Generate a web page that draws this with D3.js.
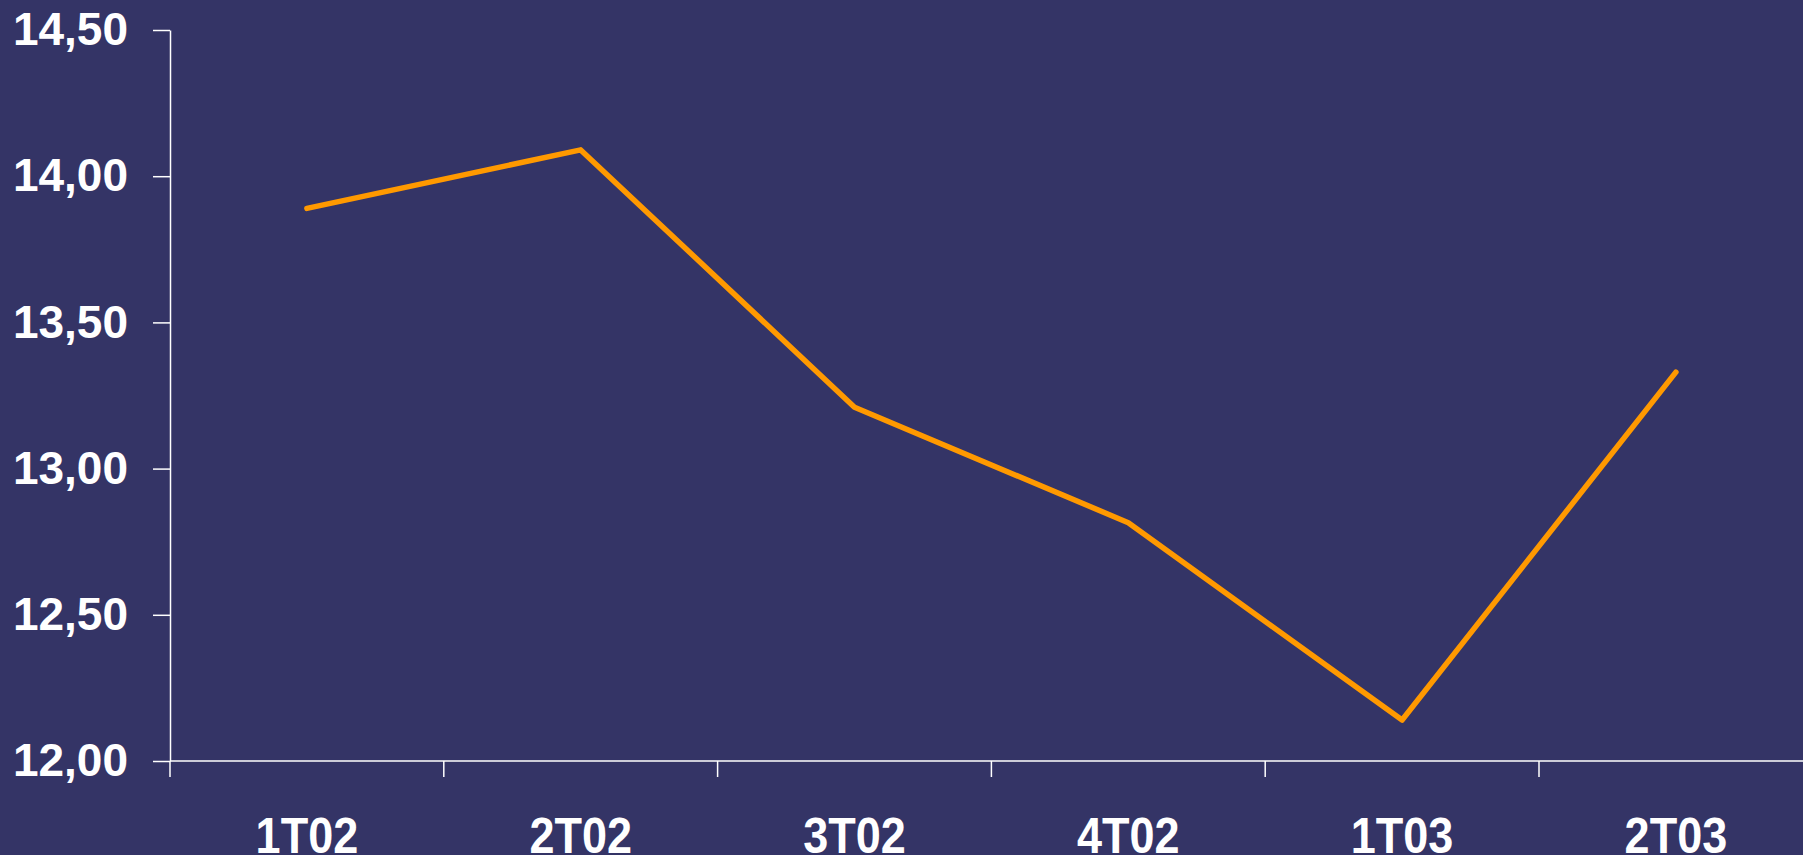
<!DOCTYPE html>
<html>
<head>
<meta charset="utf-8">
<script src="https://cdn.jsdelivr.net/npm/d3@7"></script>
<style>
    html, body { margin: 0; padding: 0; background: #343466; overflow: hidden; }
    svg { display: block; }
</style>
</head>
<body>
<div id="chart"></div>
<script>
    // quarterly values
    var quarters = ['1T02', '2T02', '3T02', '4T02', '1T03', '2T03'];
    var values = [13.89, 14.09, 13.21, 12.815, 12.14, 13.33];
    var yTicks = [12, 12.5, 13, 13.5, 14, 14.5];

    var width = 1803;
    var height = 855;
    var bg = '#343466';
    var lineColor = '#ff9900';
    var axisColor = '#ffffff';

    var svg = d3.select('#chart')
        .append('svg')
        .attr('width', width)
        .attr('height', height)
        .style('background', bg);

    var x = d3.scaleBand()
        .domain(quarters)
        .range([170, 170 + 6 * 273.8]);

    var y = d3.scaleLinear()
        .domain([12, 14.5])
        .range([761, 30]);

    var fmt = d3.format('.2f');

    // y axis
    var yAxis = svg.append('g')
        .attr('transform', 'translate(' + x.range()[0] + ',0)')
        .call(d3.axisLeft(y)
            .tickValues(yTicks)
            .tickSizeInner(17)
            .tickSizeOuter(0)
            .tickPadding(25)
            .tickFormat(function (d) {
                return fmt(d).replace('.', ',');
            })
        );
    yAxis.select('.domain').attr('stroke', axisColor).attr('stroke-width', 1.5);
    yAxis.selectAll('.tick line').attr('stroke', axisColor).attr('stroke-width', 1.5);
    yAxis.selectAll('.tick text')
        .attr('fill', axisColor)
        .style('font-family', '"Liberation Sans", Arial, sans-serif')
        .style('font-weight', 'bold')
        .style('font-size', '46px');

    // x axis line, ticks at band edges
    var xg = svg.append('g');
    xg.append('line')
        .attr('x1', x.range()[0])
        .attr('x2', width)
        .attr('y1', y(12))
        .attr('y2', y(12))
        .attr('stroke', axisColor)
        .attr('stroke-width', 1.5);
    xg.selectAll('.xtick')
        .data(quarters)
        .enter()
        .append('line')
        .attr('class', 'xtick')
        .attr('x1', function (d) { return x(d); })
        .attr('x2', function (d) { return x(d); })
        .attr('y1', y(12))
        .attr('y2', y(12) + 16)
        .attr('stroke', axisColor)
        .attr('stroke-width', 1.5);
    xg.selectAll('.xlabel')
        .data(quarters)
        .enter()
        .append('text')
        .attr('class', 'xlabel')
        .attr('transform', function (d) {
            return 'translate(' + (x(d) + x.bandwidth() / 2) + ',853) scale(1,1.1)';
        })
        .attr('text-anchor', 'middle')
        .attr('fill', axisColor)
        .style('font-family', '"Liberation Sans", Arial, sans-serif')
        .style('font-weight', 'bold')
        .style('font-size', '45px')
        .text(function (d) { return d; });

    // the line
    var line = d3.line()
        .x(function (d, i) { return x(quarters[i]) + x.bandwidth() / 2; })
        .y(function (d) { return y(d); });

    svg.append('path')
        .datum(values)
        .attr('d', line)
        .attr('fill', 'none')
        .attr('stroke', lineColor)
        .attr('stroke-width', 5.5)
        .attr('stroke-linejoin', 'round')
        .attr('stroke-linecap', 'round');
</script>
</body>
</html>
